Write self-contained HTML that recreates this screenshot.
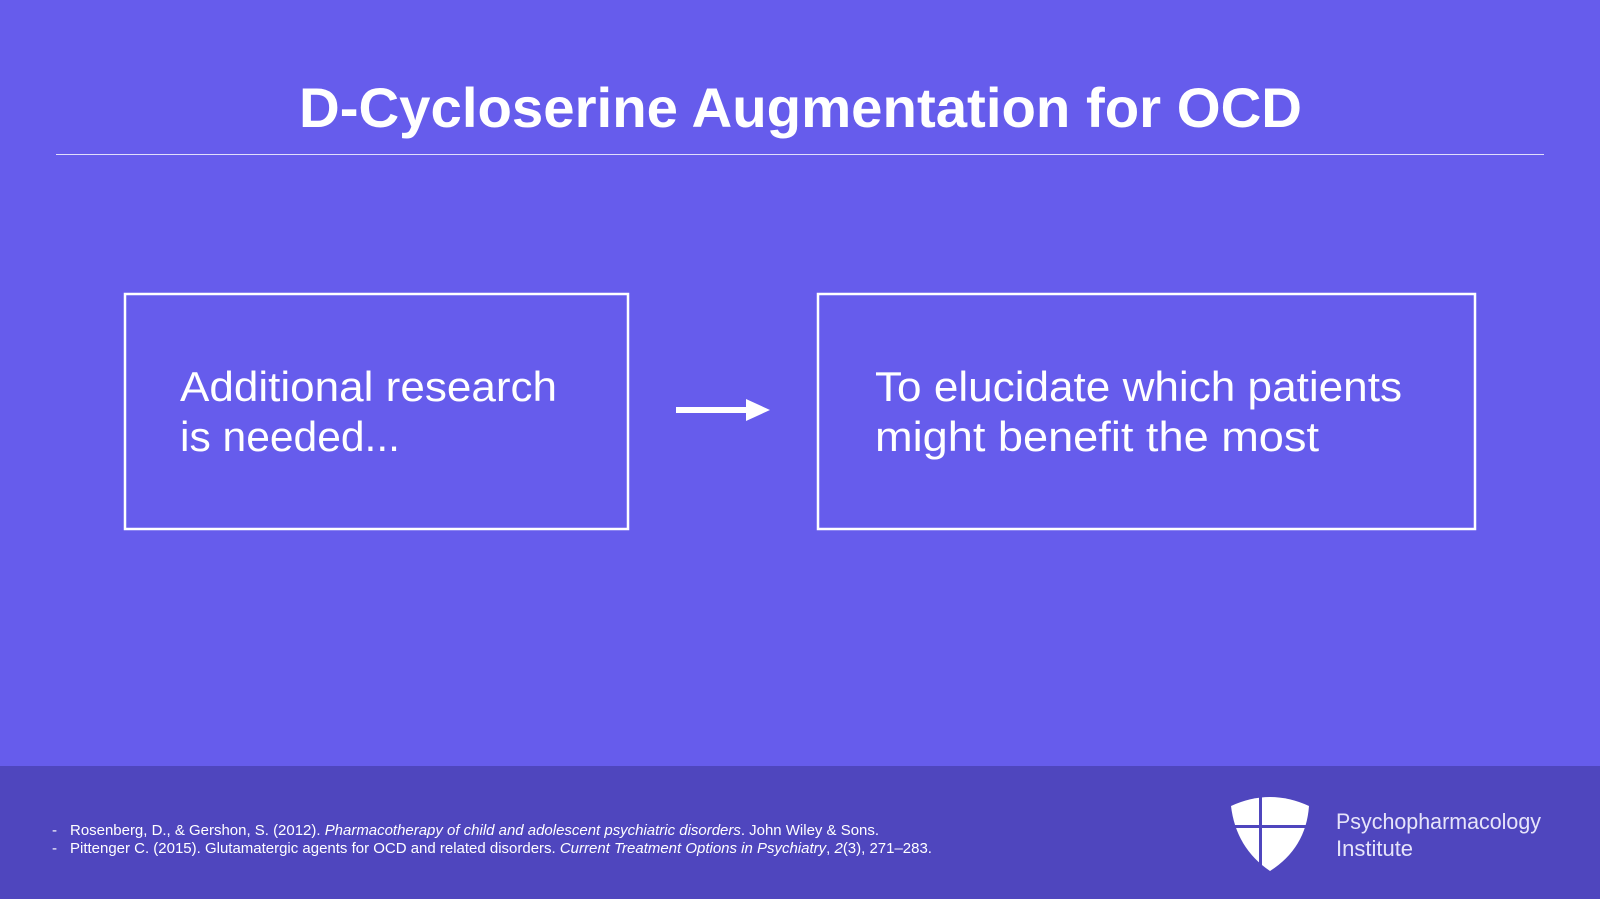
<!DOCTYPE html>
<html><head><meta charset="utf-8"><style>
html,body{margin:0;padding:0;}
body{width:1600px;height:899px;overflow:hidden;background:#665CEC;}
svg{display:block;}
</style></head><body>
<svg width="1600" height="899" viewBox="0 0 1600 899" xmlns="http://www.w3.org/2000/svg">
<rect x="0" y="0" width="1600" height="899" fill="#665CEC"/>
<rect x="0" y="766" width="1600" height="133" fill="#4F46BE"/>
<text x="299" y="127" textLength="1003" lengthAdjust="spacingAndGlyphs" font-family="Liberation Sans, sans-serif" font-weight="bold" font-size="56" fill="#fff">D-Cycloserine Augmentation for OCD</text>
<line x1="56" y1="154.5" x2="1544" y2="154.5" stroke="#fff" stroke-opacity="0.8" stroke-width="1"/>
<rect x="125" y="294" width="503" height="235" fill="none" stroke="#fff" stroke-width="2.5"/>
<rect x="818" y="294" width="657" height="235" fill="none" stroke="#fff" stroke-width="2.5"/>
<g font-family="Liberation Sans, sans-serif" font-size="42" fill="#fff">
<text x="180" y="401" textLength="377" lengthAdjust="spacingAndGlyphs">Additional research</text>
<text x="180" y="451" textLength="220" lengthAdjust="spacingAndGlyphs">is needed...</text>
<text x="875" y="401" textLength="527" lengthAdjust="spacingAndGlyphs">To elucidate which patients</text>
<text x="875" y="451" textLength="444" lengthAdjust="spacingAndGlyphs">might benefit the most</text>
</g>
<rect x="676" y="407" width="72" height="6" fill="#fff"/>
<polygon points="746,399 770,410 746,421" fill="#fff"/>
<g font-family="Liberation Sans, sans-serif" font-size="15.2" fill="#fff">
<text x="52" y="835">-</text>
<text x="52" y="853">-</text>
<text x="70" y="835" textLength="809" lengthAdjust="spacingAndGlyphs">Rosenberg, D., &amp; Gershon, S. (2012). <tspan font-style="italic">Pharmacotherapy of child and adolescent psychiatric disorders</tspan>. John Wiley &amp; Sons.</text>
<text x="70" y="853" textLength="862" lengthAdjust="spacingAndGlyphs">Pittenger C. (2015). Glutamatergic agents for OCD and related disorders. <tspan font-style="italic">Current Treatment Options in Psychiatry</tspan>, <tspan font-style="italic">2</tspan>(3), 271–283.</text>
</g>
<path d="M1231,806 Q1270,788 1309,806 Q1306,848 1270,871 Q1236,848 1231,806 Z" fill="#fff"/>
<rect x="1259" y="794" width="3" height="80" fill="#4F46BE"/>
<rect x="1228" y="825" width="85" height="3" fill="#4F46BE"/>
<g font-family="Liberation Sans, sans-serif" font-size="22" fill="#E6E4FA">
<text x="1336" y="829" textLength="205" lengthAdjust="spacingAndGlyphs">Psychopharmacology</text>
<text x="1336" y="856">Institute</text>
</g>
</svg>
</body></html>
